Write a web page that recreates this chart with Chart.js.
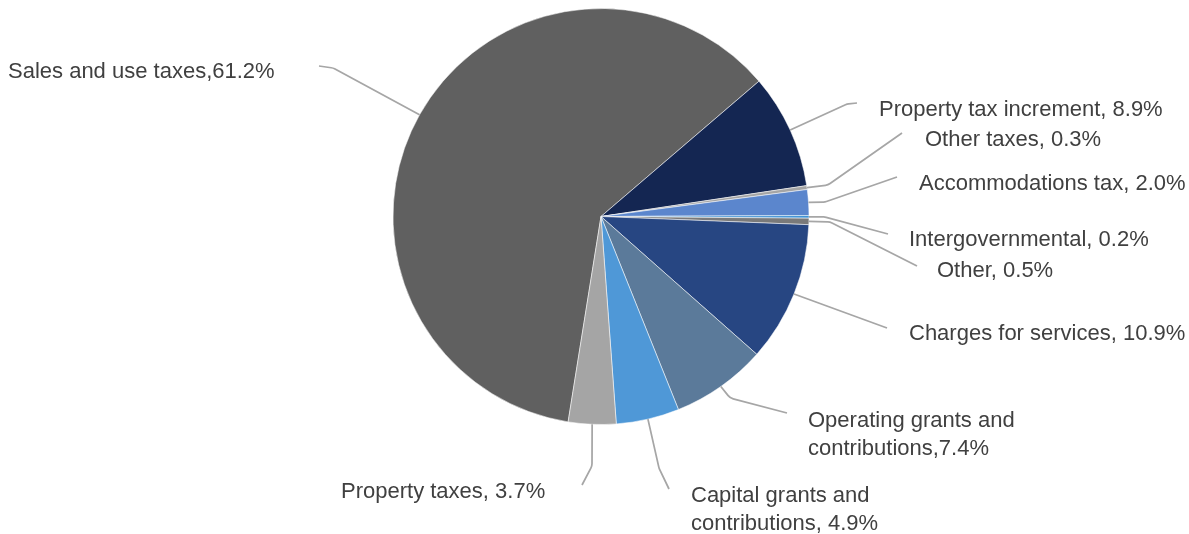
<!DOCTYPE html>
<html>
<head>
<meta charset="utf-8">
<script src="https://cdn.jsdelivr.net/npm/chart.js@4.4.1/dist/chart.umd.min.js"></script>
<style>
  html, body { margin: 0; padding: 0; background: #ffffff; }
</style>
</head>
<body>
<canvas id="pieChart" width="1189" height="534"></canvas>
<script>
// revenue shares, clockwise starting with the big slice
const categories = [
    'Sales and use taxes',
    'Property tax increment',
    'Other taxes',
    'Accommodations tax',
    'Intergovernmental',
    'Other',
    'Charges for services',
    'Operating grants and\ncontributions',
    'Capital grants and\ncontributions',
    'Property taxes'
];
const shares = [61.2, 8.9, 0.3, 2.0, 0.2, 0.5, 10.9, 7.4, 4.9, 3.7];
const separators = [',', ', ', ', ', ', ', ', ', ', ', ', ', ',', ', ', ', '];

const sliceColors = [
    '#606060', '#142652', '#a5a5a5', '#5b86cd', '#3b8fd2',
    '#7a7a7a', '#274682', '#5b7a9a', '#4f98d7', '#a5a5a5'
];

// where each label sits (text x, first baseline) and the bends of its leader line
const labelLayout = [
    { x: 8,   y: 78,  line: [[333, 68], [319, 66]] },
    { x: 879, y: 116, line: [[847, 104], [857, 103]] },
    { x: 925, y: 146, line: [[828, 185], [902, 133]] },
    { x: 919, y: 190, line: [[825, 202], [897, 177]] },
    { x: 909, y: 246, line: [[825, 217], [888, 234]] },
    { x: 937, y: 277, line: [[830, 222], [917, 266]] },
    { x: 909, y: 340, line: [[887, 328]] },
    { x: 808, y: 427, line: [[730, 398], [787, 413]] },
    { x: 691, y: 502, line: [[659, 468], [669, 489]] },
    { x: 341, y: 498, line: [[592, 466], [582, 485]] }
];

const leaderLabels = {
    id: 'leaderLabels',
    afterDatasetsDraw(chart) {
        const ctx = chart.ctx;
        const arcs = chart.getDatasetMeta(0).data;
        ctx.save();
        arcs.forEach((arc, i) => {
            const p = arc.getProps(['x', 'y', 'startAngle', 'endAngle', 'outerRadius'], true);
            const mid = (p.startAngle + p.endAngle) / 2;
            const pts = [[p.x + Math.cos(mid) * p.outerRadius, p.y + Math.sin(mid) * p.outerRadius]]
                .concat(labelLayout[i].line);

            // leader line with softened bends
            ctx.beginPath();
            ctx.moveTo(pts[0][0], pts[0][1]);
            for (let k = 1; k < pts.length - 1; k++) {
                ctx.arcTo(pts[k][0], pts[k][1], pts[k + 1][0], pts[k + 1][1], 10);
            }
            ctx.lineTo(pts[pts.length - 1][0], pts[pts.length - 1][1]);
            ctx.strokeStyle = '#a6a6a6';
            ctx.lineWidth = 1.75;
            ctx.lineJoin = 'round';
            ctx.stroke();

            const lay = labelLayout[i];
            const text = categories[i] + separators[i] + shares[i].toFixed(1) + '%';
            ctx.fillStyle = '#404040';
            ctx.font = '22px "Liberation Sans", Arial, sans-serif';
            ctx.textBaseline = 'alphabetic';
            ctx.textAlign = 'left';
            text.split('\n').forEach((ln, k) => {
                ctx.fillText(ln, lay.x, lay.y + k * 27.5);
            });
        });
        ctx.restore();
    }
};

const pieChart = new Chart(document.getElementById('pieChart'), {
    type: 'pie',
    data: {
        labels: categories,
        datasets: [{
            data: shares,
            backgroundColor: sliceColors,
            borderColor: 'rgba(255, 255, 255, 0.7)',
            borderWidth: 0.75,
            hoverOffset: 0,
            radius: 208
        }]
    },
    options: {
        responsive: false,
        animation: false,
        rotation: -170.9,
        layout: { padding: { left: 13, right: 0, top: 0, bottom: 101 } },
        plugins: {
            legend: { display: false },
            tooltip: { enabled: false }
        },
        events: []
    },
    plugins: [leaderLabels]
});
</script>
</body>
</html>
